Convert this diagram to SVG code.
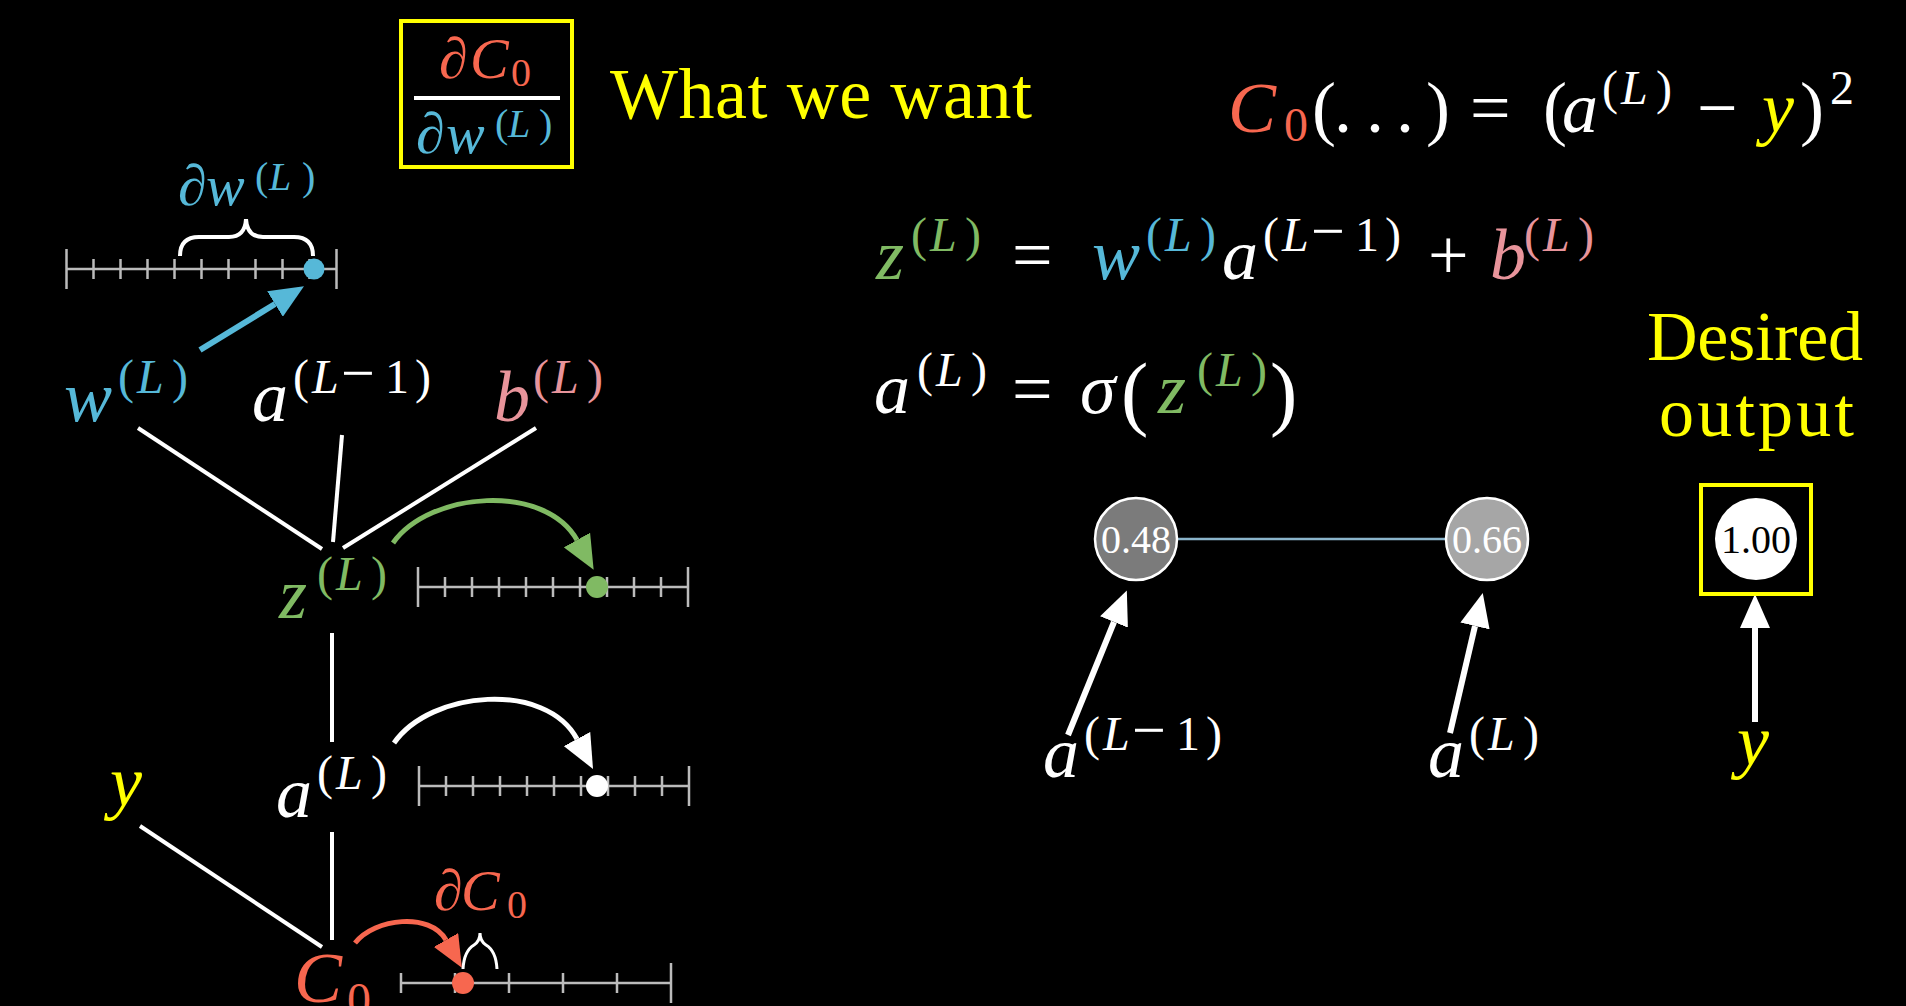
<svg xmlns="http://www.w3.org/2000/svg" width="1906" height="1006" viewBox="0 0 1906 1006" font-family="Liberation Serif">
<defs>
<style>
text { font-family: "Liberation Serif", serif; fill: #FFFFFF; }
.it { font-style: italic; }
.L { font-size: 72px; }
.S { font-size: 48px; }
.D { font-size: 58px; }
.DS { font-size: 40px; }
.blue { fill: #56B8D8; }
.green { fill: #80BA63; }
.pink { fill: #E8949B; }
.red { fill: #F7674F; }
.yellow { fill: #FFFF00; }
.black { fill: #000000; }
.edge { stroke: #FFFFFF; stroke-width: 4; fill: none; }
.nl { stroke: #BBBBBB; stroke-width: 2.5; fill: none; }
.arr { stroke-width: 6; fill: none; }
.arc { stroke-width: 5; fill: none; }
.neuron { stroke: #FFFFFF; stroke-width: 2.5; }
.num { font-size: 40px; text-anchor: middle; }
</style>
<marker id="hw" viewBox="0 0 34 30" refX="0" refY="15" markerWidth="34" markerHeight="30" markerUnits="userSpaceOnUse" orient="auto"><path d="M0,0 L34,15 L0,30 z" fill="#FFFFFF"/></marker>
<marker id="hb" viewBox="0 0 34 30" refX="0" refY="15" markerWidth="34" markerHeight="30" markerUnits="userSpaceOnUse" orient="auto"><path d="M0,0 L34,15 L0,30 z" fill="#56B8D8"/></marker>
<marker id="hg" viewBox="0 0 34 30" refX="0" refY="15" markerWidth="34" markerHeight="30" markerUnits="userSpaceOnUse" orient="auto"><path d="M0,0 L34,15 L0,30 z" fill="#80BA63"/></marker>
<marker id="hr" viewBox="0 0 32 28" refX="0" refY="14" markerWidth="32" markerHeight="28" markerUnits="userSpaceOnUse" orient="auto"><path d="M0,0 L32,14 L0,28 z" fill="#F7674F"/></marker>
</defs>
<rect x="0" y="0" width="1906" height="1006" fill="#000000"/>

<g id="target-fraction">
<rect x="401" y="21" width="171" height="146" fill="none" stroke="#FFFF00" stroke-width="4"/>
<text class="D red" y="78"><tspan x="439">∂</tspan><tspan x="470" class="it">C</tspan></text>
<text class="DS red" x="511" y="86">0</text>
<rect x="414" y="96" width="146" height="4" fill="#FFFFFF"/>
<text class="D blue" y="153"><tspan x="416">∂</tspan><tspan x="446" class="it">w</tspan></text>
<text class="DS blue" y="137"><tspan x="495">(</tspan><tspan x="508" class="it">L</tspan><tspan x="539">)</tspan></text>
</g>
<g id="label-what-we-want">
<text class="yellow" x="610" y="118" font-size="72" textLength="422">What we want</text>
</g>

<g id="eq-cost">
<text class="L it red" x="1228" y="132">C</text>
<text class="red" x="1284" y="141" font-size="48">0</text>
<text class="L" y="132"><tspan x="1312">(</tspan><tspan x="1334">.</tspan><tspan x="1366">.</tspan><tspan x="1396">.</tspan><tspan x="1426">)</tspan><tspan x="1470">=</tspan><tspan x="1543">(</tspan></text>
<text class="L it" x="1562" y="132">a</text>
<text class="S" y="104"><tspan x="1602">(</tspan><tspan x="1621" class="it">L</tspan><tspan x="1656">)</tspan></text>
<text class="L" x="1697" y="132">−</text>
<text class="L it yellow" x="1762" y="132">y</text>
<text class="L" x="1800" y="132">)</text>
<text class="S" x="1830" y="104">2</text>
</g>

<g id="eq-z">
<text class="L it green" x="876" y="279">z</text>
<text class="S green" y="251"><tspan x="911">(</tspan><tspan x="930" class="it">L</tspan><tspan x="965">)</tspan></text>
<text class="L" x="1012" y="279">=</text>
<text class="L it blue" x="1092" y="279">w</text>
<text class="S blue" y="251"><tspan x="1146">(</tspan><tspan x="1165" class="it">L</tspan><tspan x="1200">)</tspan></text>
<text class="L it" x="1222" y="279">a</text>
<text class="S" y="251"><tspan x="1263">(</tspan><tspan x="1282" class="it">L</tspan><tspan x="1311" font-size="60">−</tspan><tspan x="1355">1</tspan><tspan x="1385">)</tspan></text>
<text class="L" x="1428" y="279">+</text>
<text class="L it pink" x="1490" y="279">b</text>
<text class="S pink" y="251"><tspan x="1524">(</tspan><tspan x="1543" class="it">L</tspan><tspan x="1578">)</tspan></text>
</g>

<g id="eq-a">
<text class="L it" x="874" y="413">a</text>
<text class="S" y="386"><tspan x="917">(</tspan><tspan x="936" class="it">L</tspan><tspan x="971">)</tspan></text>
<text class="L" x="1012" y="413">=</text>
<text class="L it" x="1080" y="413">σ</text>
<text x="1121" y="420" font-size="82">(</text>
<text class="L it green" x="1158" y="413">z</text>
<text class="S green" y="386"><tspan x="1197">(</tspan><tspan x="1216" class="it">L</tspan><tspan x="1251">)</tspan></text>
<text x="1270" y="420" font-size="82">)</text>
</g>

<g id="label-desired-output">
<text class="yellow" x="1647" y="360" font-size="70" textLength="216">Desired</text>
<text class="yellow" x="1659" y="436" font-size="70" textLength="195">output</text>
</g>

<g id="connectors">
<line class="edge" x1="138" y1="428" x2="322" y2="549"/>
<line class="edge" x1="342" y1="435" x2="333" y2="542"/>
<line class="edge" x1="536" y1="428" x2="343" y2="548"/>
<line class="edge" x1="332" y1="633" x2="332" y2="742"/>
<line class="edge" x1="332" y1="832" x2="332" y2="940"/>
<line class="edge" x1="140" y1="826" x2="322" y2="947"/>
<line class="arr" stroke="#56B8D8" x1="200" y1="350" x2="275" y2="304" marker-end="url(#hb)"/>
<path class="arc" stroke="#80BA63" d="M393,543 C430,491 545,483 577,540" marker-end="url(#hg)"/>
<path class="arc" stroke="#FFFFFF" d="M394,743 C431,690 546,681 577,739" marker-end="url(#hw)"/>
<path class="arc" stroke="#F7674F" d="M355,943 C375,918 430,912 446,940" marker-end="url(#hr)"/>
<line x1="1177" y1="539" x2="1446" y2="539" stroke="#8AB4CB" stroke-width="2.5"/>
<line class="arr" stroke="#FFFFFF" x1="1068" y1="735" x2="1114" y2="622" marker-end="url(#hw)"/>
<line class="arr" stroke="#FFFFFF" x1="1450" y1="733" x2="1475" y2="626" marker-end="url(#hw)"/>
<line class="arr" stroke="#FFFFFF" x1="1755" y1="722" x2="1755" y2="628" marker-end="url(#hw)"/>
</g>

<g id="node-w">
<text class="L it blue" x="64" y="421">w</text>
<text class="S blue" y="393"><tspan x="118">(</tspan><tspan x="137" class="it">L</tspan><tspan x="172">)</tspan></text>
</g>
<g id="node-a-prev">
<text class="L it" x="252" y="421">a</text>
<text class="S" y="393"><tspan x="293">(</tspan><tspan x="312" class="it">L</tspan><tspan x="341" font-size="60">−</tspan><tspan x="385">1</tspan><tspan x="415">)</tspan></text>
</g>
<g id="node-b">
<text class="L it pink" x="494" y="421">b</text>
<text class="S pink" y="393"><tspan x="533">(</tspan><tspan x="552" class="it">L</tspan><tspan x="587">)</tspan></text>
</g>
<g id="node-z">
<text class="L it green" x="279" y="618">z</text>
<text class="S green" y="590"><tspan x="317">(</tspan><tspan x="336" class="it">L</tspan><tspan x="371">)</tspan></text>
</g>
<g id="node-aL">
<text class="L it" x="276" y="817">a</text>
<text class="S" y="789"><tspan x="317">(</tspan><tspan x="336" class="it">L</tspan><tspan x="371">)</tspan></text>
</g>
<g id="node-y">
<text class="L it yellow" x="110" y="806">y</text>
</g>
<g id="node-C0">
<text class="L it red" x="294" y="1002">C</text>
<text class="red" x="347" y="1016" font-size="48">0</text>
</g>

<g id="numberline-w">
<path class="nl" d="M66.5,269 H336.5 M66.5,249 V289 M336.5,249 V289 M93.5,259 V279 M120.5,259 V279 M147.5,259 V279 M174.5,259 V279 M201.5,259 V279 M228.5,259 V279 M255.5,259 V279 M282.5,259 V279 M309.5,259 V279"/>
<circle cx="314" cy="269" r="10.5" fill="#56B8D8"/>
<path d="M180,256 Q180,237 199,237 L229,237 Q245,237 246,219 Q247,237 263,237 L294,237 Q313,237 313,256" fill="none" stroke="#FFFFFF" stroke-width="4"/>
<text class="D blue" y="205"><tspan x="178">∂</tspan><tspan x="206" class="it">w</tspan></text>
<text class="DS blue" y="190"><tspan x="255">(</tspan><tspan x="269" class="it">L</tspan><tspan x="302">)</tspan></text>
</g>

<g id="numberline-z">
<path class="nl" d="M418,587 H688 M418,567 V607 M688,567 V607 M445,577 V597 M472,577 V597 M499,577 V597 M526,577 V597 M553,577 V597 M580,577 V597 M607,577 V597 M634,577 V597 M661,577 V597"/>
<circle cx="597" cy="587" r="11" fill="#80BA63"/>
</g>

<g id="numberline-a">
<path class="nl" d="M419,786 H689 M419,766 V806 M689,766 V806 M446,776 V796 M473,776 V796 M500,776 V796 M527,776 V796 M554,776 V796 M581,776 V796 M608,776 V796 M635,776 V796 M662,776 V796"/>
<circle cx="597" cy="786" r="11" fill="#FFFFFF"/>
</g>

<g id="numberline-C0">
<path class="nl" d="M401,983 H671 M401,973 V993 M455,973 V993 M509,973 V993 M563,973 V993 M617,973 V993 M671,963 V1003"/>
<circle cx="463" cy="983" r="11" fill="#F7674F"/>
<path d="M463,969 Q464,951 474,945 Q480,941 480,933 Q480,941 486,945 Q496,951 497,969" fill="none" stroke="#FFFFFF" stroke-width="3"/>
<text class="D red" y="910"><tspan x="434">∂</tspan><tspan x="461" class="it">C</tspan></text>
<text class="DS red" x="507" y="918">0</text>
</g>

<g id="neuron-prev">
<circle class="neuron" cx="1136" cy="539" r="41" fill="#7B7B7B"/>
<text class="num" x="1136" y="553">0.48</text>
</g>
<g id="neuron-out">
<circle class="neuron" cx="1487" cy="539" r="41" fill="#A6A6A6"/>
<text class="num" x="1487" y="553">0.66</text>
</g>
<g id="neuron-desired">
<rect x="1701" y="485" width="110" height="109" fill="none" stroke="#FFFF00" stroke-width="4"/>
<circle cx="1756" cy="539" r="41" fill="#FFFFFF"/>
<text class="num black" x="1756" y="553">1.00</text>
</g>
<g id="label-a-prev">
<text class="L it" x="1043" y="777">a</text>
<text class="S" y="750"><tspan x="1084">(</tspan><tspan x="1103" class="it">L</tspan><tspan x="1132" font-size="60">−</tspan><tspan x="1176">1</tspan><tspan x="1206">)</tspan></text>
</g>
<g id="label-aL">
<text class="L it" x="1428" y="777">a</text>
<text class="S" y="750"><tspan x="1469">(</tspan><tspan x="1488" class="it">L</tspan><tspan x="1523">)</tspan></text>
</g>
<g id="label-y">
<text class="L it yellow" x="1737" y="765">y</text>
</g>
</svg>
